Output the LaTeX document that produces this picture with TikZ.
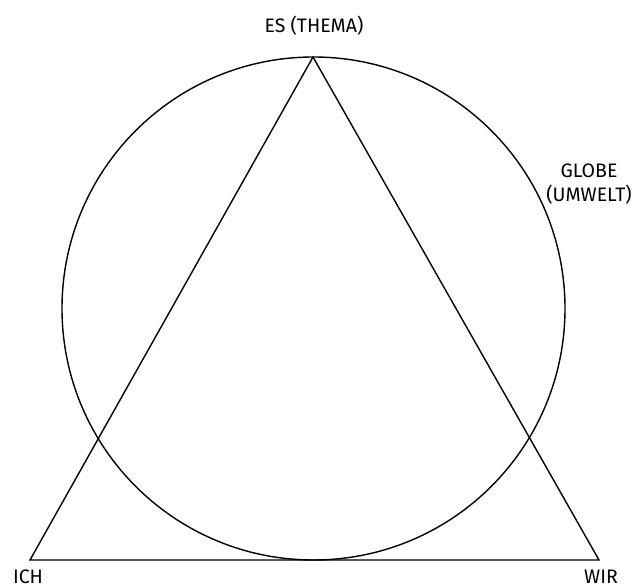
\documentclass[tikz,border=0pt]{standalone}
\usepackage{fontspec}
\setmainfont{Fira Sans}
\begin{document}
\begin{tikzpicture}[x=1pt,y=-1pt,
  lbl/.style={font=\fontsize{19.5}{23.5}\selectfont, text=black, inner sep=0pt, align=center},
  outline/.style={line width=1.4pt, black}]
\useasboundingbox (0,0) rectangle (638,588);
\coordinate (A) at (313,57);
\coordinate (B) at (30,560);
\coordinate (C) at (599,560);
\coordinate (O) at (313.5,308.5);
\draw[outline] (O) circle[radius=251.5];
\draw[outline] (A) -- (B) -- (C) -- cycle;
\node[lbl] (es) at (314,26) {ES (THEMA)};
\node[lbl] (globe) at (589,184) {GLOBE\\(UMWELT)};
\node[lbl] (ich) at (28,576.5) {ICH};
\node[lbl] (wir) at (601,576.5) {WIR};
\end{tikzpicture}
\end{document}
